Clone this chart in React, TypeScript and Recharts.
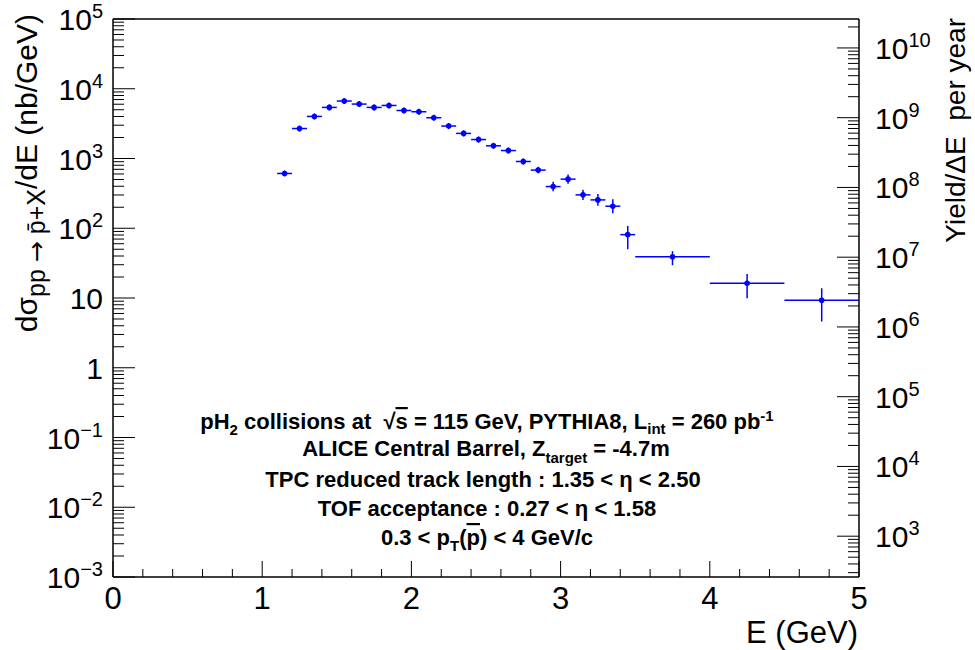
import { ErrorBar, ReferenceLine, Scatter, ScatterChart, XAxis, YAxis } from "recharts";

// antiproton energy spectrum (bin centres, GeV)
const energies = [
  1.15, 1.25, 1.35, 1.45, 1.55, 1.65, 1.75, 1.85, 1.95, 2.05, 2.15, 2.25, 2.35, 2.45,
  2.55, 2.65, 2.75, 2.85, 2.95, 3.05, 3.15, 3.25, 3.35, 3.45, 3.75, 4.25, 4.75,
];
const binHalfWidth = [
  0.05, 0.05, 0.05, 0.05, 0.05, 0.05, 0.05, 0.05, 0.05, 0.05, 0.05, 0.05, 0.05, 0.05,
  0.05, 0.05, 0.05, 0.05, 0.05, 0.05, 0.05, 0.05, 0.05, 0.05, 0.25, 0.25, 0.25,
];
// dsigma/dE in nb/GeV
const xsec = [
  610, 2690, 4010, 5400, 6670, 6030, 5400, 5760, 4880, 4680, 3840, 2920, 2290, 1870,
  1520, 1300, 906, 682, 396, 506, 301, 255, 207, 81, 39, 16.3, 9.3,
];
const errLow = [
  57, 250, 380, 510, 630, 570, 510, 540, 460, 440, 360, 280, 220, 180,
  145, 125, 90, 70, 57, 70, 47, 45, 43, 31, 9.5, 6.4, 4.7,
];
const errHigh = [
  63, 280, 420, 560, 690, 630, 560, 600, 510, 490, 400, 300, 240, 200,
  160, 140, 100, 80, 67, 82, 55, 54, 54, 27, 8, 5.7, 4.5,
];

const LUMI = 2.6e5; // 260 pb^-1 in nb^-1
const leftDecades = [-3, -2, -1, 0, 1, 2, 3, 4, 5];
const rightDecades = [2, 3, 4, 5, 6, 7, 8, 9, 10];
const minorMult = [1, 2, 3, 4, 5, 6, 7, 8, 9];
const xTicks = [0, 0.2, 0.4, 0.6, 0.8, 1, 1.2, 1.4, 1.6, 1.8, 2, 2.2, 2.4, 2.6, 2.8, 3, 3.2, 3.4, 3.6, 3.8, 4, 4.2, 4.4, 4.6, 4.8, 5];

const FONT = '"Liberation Sans", Arial, Helvetica, sans-serif';
const BLUE = "#0000ff";
const NB = "\u00a0";

const leftDomain = [1e-3, 1e5];
const rightDomain = [1e-3 * LUMI, 1e5 * LUMI];

const buildTicks = (decades: number[], dom: number[]) => {
  const out: number[] = [];
  decades.forEach((d) => {
    minorMult.forEach((m) => {
      const v = m * Math.pow(10, d);
      if (v >= dom[0] * 0.999 && v <= dom[1] * 1.001) out.push(v);
    });
  });
  return out;
};
const leftTicks = buildTicks(leftDecades, leftDomain);
const rightTicks = buildTicks(rightDecades, rightDomain);

const isMajor = (v: number) => {
  const l = Math.log10(v);
  return Math.abs(l - Math.round(l)) < 1e-6;
};

const PowLabel = ({ v, x, y, anchor }: any) => {
  const p = Math.round(Math.log10(v));
  if (p === 0 || p === 1) {
    return (
      <text x={x} y={y + 11} textAnchor={anchor} fontSize={30} fontFamily={FONT} fill="#000">
        {p === 0 ? "1" : "10"}
      </text>
    );
  }
  return (
    <text x={x} y={y + 11} textAnchor={anchor} fontSize={30} fontFamily={FONT} fill="#000">
      10
      <tspan fontSize={20} dy={-12}>
        {p < 0 ? "\u2212" + Math.abs(p) : String(p)}
      </tspan>
    </text>
  );
};

const LeftTick = (props: any) => {
  const { x, y, payload } = props;
  const major = isMajor(payload.value);
  return (
    <g>
      <line x1={x} x2={x + (major ? 22 : 11)} y1={y} y2={y} stroke="#000" strokeWidth={1} />
      {major && <PowLabel v={payload.value} x={x - 10} y={y} anchor="end" />}
    </g>
  );
};

const RightTick = (props: any) => {
  const { x, y, payload } = props;
  const major = isMajor(payload.value);
  const showLabel = major && payload.value >= 1e3;
  return (
    <g>
      <line x1={x} x2={x - (major ? 22 : 11)} y1={y} y2={y} stroke="#000" strokeWidth={1} />
      {showLabel && <PowLabel v={payload.value} x={x + 16} y={y} anchor="start" />}
    </g>
  );
};

const XTick = (props: any) => {
  const { x, y, payload } = props;
  const v = payload.value;
  const major = Math.abs(v - Math.round(v)) < 1e-6;
  return (
    <g>
      <line x1={x} x2={x} y1={y} y2={y - (major ? 16 : 8)} stroke="#000" strokeWidth={1} />
      {major && (
        <text x={x} y={y + 32} textAnchor="middle" fontSize={31} fontFamily={FONT} fill="#000">
          {String(Math.round(v))}
        </text>
      )}
    </g>
  );
};

const Dot = (props: any) => <circle cx={props.cx} cy={props.cy} r={2.8} fill={BLUE} />;

export default function App() {
  const data = energies.map((e, i) => ({
    e,
    y: xsec[i],
    xErr: binHalfWidth[i],
    yErr: [errLow[i], errHigh[i]],
  }));

  return (
    <div style={{ position: "absolute", left: 0, top: 0, width: 975, height: 650, background: "#fff" }}>
      <ScatterChart width={975} height={650} margin={{ top: 19, right: 0, bottom: 0, left: 0 }}>
        <XAxis
          dataKey="e"
          type="number"
          domain={[0, 5]}
          ticks={xTicks}
          interval={0}
          allowDataOverflow
          height={73}
          tickSize={0}
          tickMargin={0}
          tickLine={false}
          tick={(p: any) => <XTick {...p} />}
          axisLine={{ stroke: "#000", strokeWidth: 1.5 }}
        />
        <YAxis
          yAxisId="left"
          type="number"
          scale="log"
          domain={leftDomain}
          ticks={leftTicks}
          interval={0}
          allowDataOverflow
          width={113}
          tickSize={0}
          tickMargin={0}
          tickLine={false}
          tick={(p: any) => <LeftTick {...p} />}
          axisLine={{ stroke: "#000", strokeWidth: 1.5 }}
        />
        <YAxis
          yAxisId="right"
          orientation="right"
          type="number"
          scale="log"
          domain={rightDomain}
          ticks={rightTicks}
          interval={0}
          allowDataOverflow
          width={116}
          tickSize={0}
          tickMargin={0}
          tickLine={false}
          tick={(p: any) => <RightTick {...p} />}
          axisLine={{ stroke: "#000", strokeWidth: 1.5 }}
        />
        <ReferenceLine yAxisId="left" y={1e5} stroke="#000" strokeWidth={1.5} ifOverflow="extendDomain" />
        <Scatter yAxisId="left" data={data} dataKey="y" shape={Dot} isAnimationActive={false} legendType="none">
          <ErrorBar dataKey="xErr" direction="x" width={0} stroke={BLUE} strokeWidth={1.5} />
          <ErrorBar dataKey="yErr" direction="y" width={0} stroke={BLUE} strokeWidth={1.5} />
        </Scatter>
      </ScatterChart>

      <svg
        width={975}
        height={650}
        style={{ position: "absolute", left: 0, top: 0, pointerEvents: "none" }}
        fontFamily={FONT}
      >
        {/* left axis title */}
        <text transform="translate(36.5, 14) rotate(-90)" textAnchor="end" fontSize={30} fill="#000">
          d{"\u03c3"}
          <tspan fontSize={25} dy={8}>{"pp" + NB}</tspan>
          <tspan fontSize={25} fontFamily='"DejaVu Sans", sans-serif'>{"\u2192"}</tspan>
          <tspan fontSize={25}>{NB + "p\u0304+X"}</tspan>
          <tspan dy={-8}>/dE (nb/GeV)</tspan>
        </text>
        {/* right axis title */}
        <text transform="translate(965, 18) rotate(-90)" textAnchor="end" fontSize={28} fill="#000">
          Yield/{"\u0394"}E{NB + NB}per year
        </text>
        {/* x axis title */}
        <text x={858} y={643} textAnchor="end" fontSize={31} fill="#000">
          E (GeV)
        </text>

        {/* annotation */}
        <g fontWeight="bold" fontSize={22} fill="#000" textAnchor="middle">
          <text x={487} y={429}>
            pH<tspan fontSize={15} dy={6}>2</tspan>
            <tspan dy={-6}>{NB + "collisions at " + NB + "\u221a"}</tspan>
            <tspan textDecoration="overline">s</tspan>
            <tspan>{NB + "= 115 GeV, PYTHIA8, L"}</tspan>
            <tspan fontSize={15} dy={5}>int</tspan>
            <tspan dy={-5}>{NB + "= 260 pb"}</tspan>
            <tspan fontSize={15} dy={-8}>-1</tspan>
          </text>
          <text x={486} y={456}>
            ALICE Central Barrel, Z<tspan fontSize={15} dy={7}>target</tspan>
            <tspan dy={-7}>{NB + "= -4.7m"}</tspan>
          </text>
          <text x={483} y={487}>
            TPC reduced track length : 1.35 &lt; {"\u03b7"} &lt; 2.50
          </text>
          <text x={487} y={516}>
            TOF acceptance : 0.27 &lt; {"\u03b7"} &lt; 1.58
          </text>
          <text x={487} y={545}>
            0.3 &lt; p<tspan fontSize={15} dy={6}>T</tspan>
            <tspan dy={-6}>(</tspan>
            <tspan textDecoration="overline">p</tspan>
            <tspan>{") < 4 GeV/c"}</tspan>
          </text>
        </g>
      </svg>
    </div>
  );
}
